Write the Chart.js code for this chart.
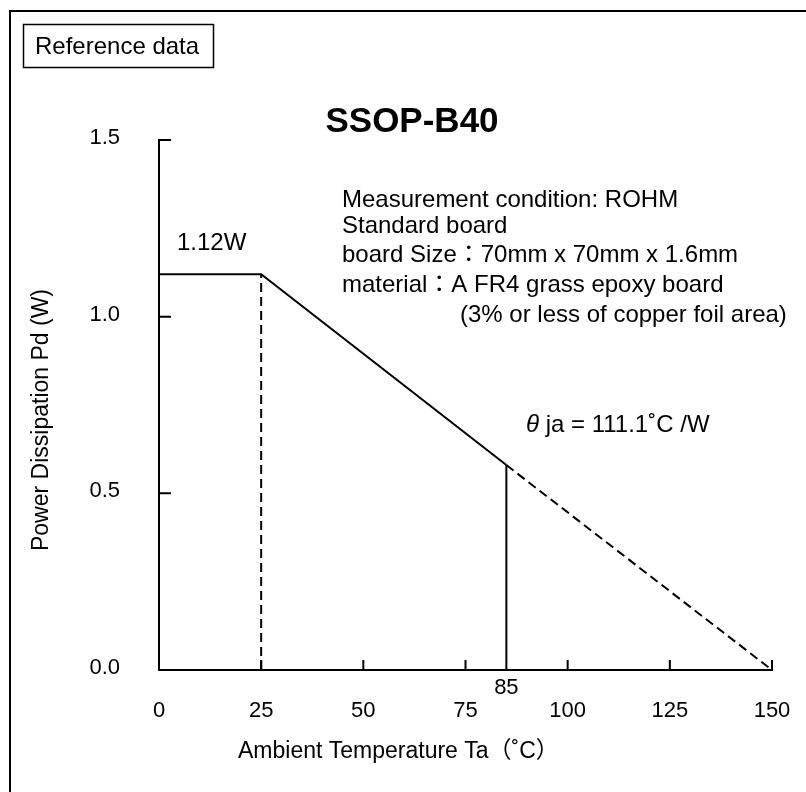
<!DOCTYPE html>
<html>
<head>
<meta charset="utf-8">
<title>SSOP-B40 Power Dissipation</title>
<script src="https://cdn.jsdelivr.net/npm/chart.js@4.4.0/dist/chart.umd.min.js"></script>
<style>
  html, body { margin: 0; padding: 0; background: #fff; }
  #wrap { width: 806px; height: 792px; }
</style>
</head>
<body>
<div id="wrap"><canvas id="myChart" width="806" height="792"></canvas></div>
<script>
'use strict';

// derating curve: ambient temperature (C) vs allowed power (W)
var tempC = [0, 25, 85, 150];
var powerW = [1.12, 1.12, 0.58, 0];

var xTicks = [0, 25, 50, 75, 100, 125, 150];
var yTicks = [0, 0.5, 1.0, 1.5];

var chartTitle = 'SSOP-B40';
var xTitle = 'Ambient Temperature Ta（˚C）';
var yTitle = 'Power Dissipation Pd (W)';
var noteLines = [
  'Measurement condition: ROHM',
  'Standard board',
  'board Size：70mm x 70mm x 1.6mm',
  'material：A FR4 grass epoxy board',
  '(3% or less of copper foil area)'
];

var FONT = '"Liberation Sans", Arial, "Noto Sans CJK JP", sans-serif';

function pt(i) {
  return { x: tempC[i], y: powerW[i] };
}

var lineStyle = {
  borderColor: '#000',
  borderWidth: 2,
  pointRadius: 0,
  fill: false,
  tension: 0,
  clip: false
};

var datasets = [
  Object.assign({ label: 'derating', data: [pt(0), pt(1), pt(2)] }, lineStyle),
  Object.assign({ label: 'beyond 85', data: [pt(2), pt(3)], borderDash: [9, 5] }, lineStyle),
  Object.assign({ label: 'drop 25', data: [{ x: tempC[1], y: 0 }, pt(1)], borderDash: [9, 5] }, lineStyle),
  Object.assign({ label: 'drop 85', data: [{ x: tempC[2], y: 0 }, pt(2)] }, lineStyle)
];

// text, frame and inward tick marks
var decorations = {
  id: 'decorations',
  beforeDraw: function(chart) {
    var ctx = chart.ctx;
    ctx.save();
    ctx.fillStyle = '#fff';
    ctx.fillRect(0, 0, chart.width, chart.height);
    ctx.restore();
  },
  afterDraw: function(chart) {
    var ctx = chart.ctx;
    var xs = chart.scales.x;
    var ys = chart.scales.y;
    ctx.save();
    ctx.strokeStyle = '#000';
    ctx.fillStyle = '#000';

    // outer frame (only top and left visible)
    ctx.lineWidth = 2;
    ctx.beginPath();
    ctx.moveTo(10, 820);
    ctx.lineTo(10, 11);
    ctx.lineTo(830, 11);
    ctx.stroke();

    // reference data box
    ctx.lineWidth = 1.5;
    ctx.strokeRect(23.5, 24.5, 190, 43);
    ctx.font = '24px ' + FONT;
    ctx.textBaseline = 'alphabetic';
    ctx.textAlign = 'left';
    ctx.fillText('Reference data', 35, 54);

    // tick marks pointing into the plot
    ctx.lineWidth = 2;
    ctx.beginPath();
    yTicks.forEach(function(v) {
      if (v === 0) return;
      var py = ys.getPixelForValue(v);
      ctx.moveTo(xs.left, py);
      ctx.lineTo(xs.left + 12, py);
    });
    xTicks.forEach(function(v) {
      if (v === 0) return;
      var px = xs.getPixelForValue(v);
      ctx.moveTo(px, ys.bottom);
      ctx.lineTo(px, ys.bottom - 10);
    });
    ctx.stroke();

    // title
    ctx.font = 'bold 35px ' + FONT;
    ctx.textAlign = 'center';
    ctx.fillText(chartTitle, 412, 132);

    // board notes
    ctx.font = '24px ' + FONT;
    ctx.textAlign = 'left';
    var noteY = [207, 233, 262, 292, 322];
    noteLines.forEach(function(t, i) {
      ctx.fillText(t, i === 4 ? 460 : 342, noteY[i]);
    });

    // value labels
    ctx.fillText('1.12W', 177, 250);

    ctx.font = 'italic 24px ' + FONT;
    ctx.fillText('θ', 526, 432);
    var w = ctx.measureText('θ').width;
    ctx.font = '24px ' + FONT;
    ctx.fillText(' ja = 111.1˚C /W', 526 + w, 432);

    ctx.font = '22px ' + FONT;
    ctx.textAlign = 'center';
    ctx.textBaseline = 'middle';
    ctx.fillText(String(tempC[2]), xs.getPixelForValue(tempC[2]), 688);

    // axis titles
    ctx.font = '23px ' + FONT;
    ctx.textAlign = 'left';
    ctx.fillText(xTitle, 238, 752);

    ctx.translate(42, 420);
    ctx.rotate(-Math.PI / 2);
    ctx.textAlign = 'center';
    ctx.fillText(yTitle, 0, 0);
    ctx.restore();
  }
};

var ctx = document.getElementById('myChart');

var myChart = new Chart(ctx, {
  type: 'line',
  data: { datasets: datasets },
  options: {
    responsive: false,
    devicePixelRatio: 1,
    animation: false,
    layout: { padding: { left: 10, right: 34, top: 140, bottom: 10 } },
    plugins: {
      legend: { display: false },
      tooltip: { enabled: false },
      title: { display: false }
    },
    scales: {
      x: {
        type: 'linear',
        min: 0,
        max: 150,
        afterBuildTicks: function(scale) {
          scale.ticks = xTicks.map(function(v) { return { value: v }; });
        },
        afterFit: function(scale) {
          scale.height = 112;
          scale.paddingLeft = 0;
          scale.paddingRight = 0;
        },
        grid: { display: false, drawTicks: false },
        border: { display: true, color: '#000', width: 2 },
        ticks: {
          color: '#000',
          padding: 28,
          maxRotation: 0,
          autoSkip: false,
          font: { family: FONT, size: 22 }
        }
      },
      y: {
        type: 'linear',
        min: 0,
        max: 1.5,
        afterBuildTicks: function(scale) {
          scale.ticks = yTicks.map(function(v) { return { value: v }; });
        },
        afterFit: function(scale) {
          scale.width = 149;
          scale.paddingTop = 0;
          scale.paddingBottom = 0;
        },
        grid: { display: false, drawTicks: false },
        border: { display: true, color: '#000', width: 2 },
        ticks: {
          color: '#000',
          padding: 39,
          labelOffset: -2,
          font: { family: FONT, size: 22 },
          callback: function(v) { return Number(v).toFixed(1); }
        }
      }
    }
  },
  plugins: [decorations]
});
</script>
</body>
</html>
